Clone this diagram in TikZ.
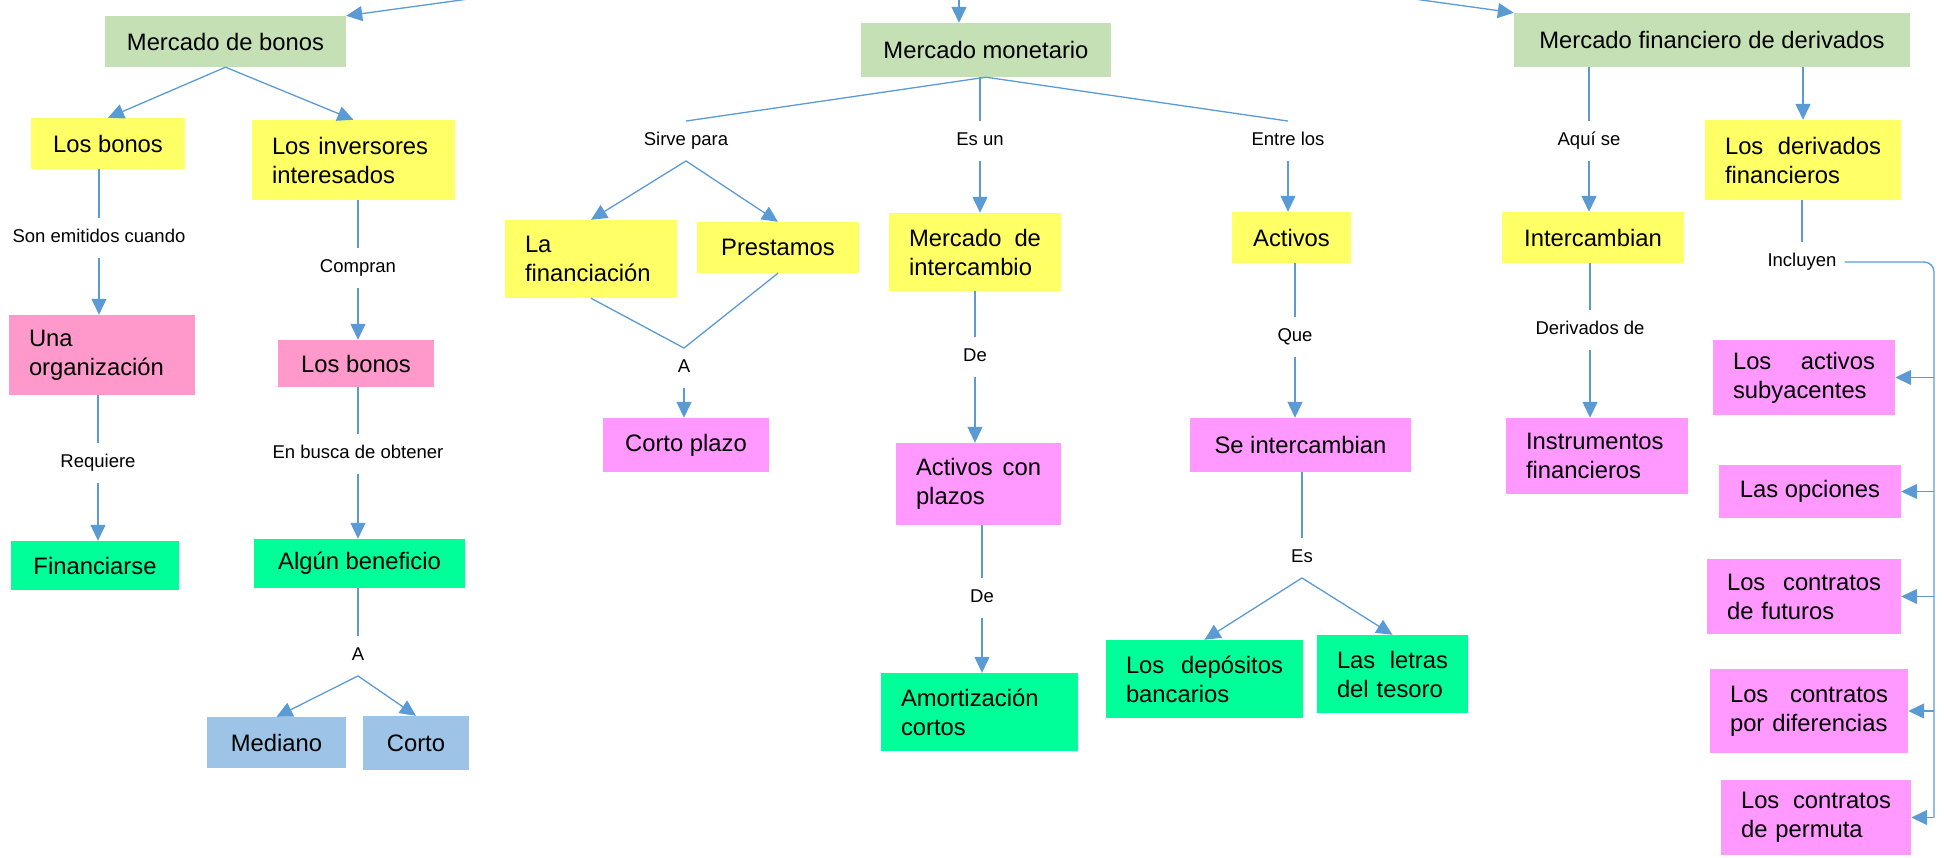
\documentclass[tikz,border=0pt]{standalone}
\usepackage{fontspec}
\setmainfont{Liberation Sans}
\usetikzlibrary{arrows.meta}
\definecolor{hdrgreen}{HTML}{C5E0B4}
\definecolor{boxyellow}{HTML}{FFFF66}
\definecolor{rosepink}{HTML}{FF99CC}
\definecolor{lilacpink}{HTML}{FF99FF}
\definecolor{mintgreen}{HTML}{00FF99}
\definecolor{paleblue}{HTML}{9DC3E6}
\definecolor{linkblue}{HTML}{5B9BD5}
\newcommand{\boxfont}{\fontsize{23.8}{29}\selectfont}
\newcommand{\lblfont}{\fontsize{18.5}{22}\selectfont}

\begin{document}
\begin{tikzpicture}[x=1pt, y=-1pt,
    box/.style = {fill=#1, inner xsep=20pt, inner ysep=2pt, font=\boxfont},
    sz/.style 2 args = {minimum width=#1, minimum height=#2},
    tw/.style 2 args = {text width=#1, minimum height=#2, align=left},
    lbl/.style = {inner xsep=8pt, inner ysep=11pt, text height=13.5pt, text depth=4pt, font=\lblfont},
    link/.style = {linkblue, line width=1.3pt},
    arr/.style = {link, -{Triangle[length=16pt, width=15pt]}}]
                \useasboundingbox (0,0) rectangle (1944,858);

                \node[box=hdrgreen, sz={241}{51}] (bonos) at (225.5,41.5) {Mercado de bonos};
                \node[box=hdrgreen, sz={250}{54}] (monetario) at (986,50) {Mercado monetario};
                \node[box=hdrgreen, sz={396}{54}] (derivados) at (1712,40) {Mercado financiero de derivados};

                \node[box=boxyellow, sz={154}{51}] (losbonos) at (108,143.5) {Los bonos};
                \node[box=boxyellow, tw={163}{80}] (inversores) at (353.5,160) {Los inversores\\interesados};
                \node[box=rosepink, tw={146}{80}] (organizacion) at (102,355) {Una\\organización};
                \node[box=mintgreen, sz={168}{49}] (financiarse) at (95,565.5) {Financiarse};
                \node[box=rosepink, sz={156}{47}] (compra) at (356,363.5) {Los bonos};
                \node[box=mintgreen, sz={211}{49}] (beneficio) at (359.5,563.5) {Algún beneficio};
                \node[box=paleblue, sz={139}{51}] (mediano) at (276.5,742.5) {Mediano};
                \node[box=paleblue, sz={106}{54}] (corto) at (416,743) {Corto};

                \node[box=boxyellow, tw={132}{78}] (financiacion) at (591,259) {La\\financiación};
                \node[box=boxyellow, sz={162}{51}] (prestamos) at (778,247.5) {Prestamos};
                \node[box=lilacpink, sz={166}{54}] (cortoplazo) at (686,445) {Corto plazo};
                \node[box=boxyellow, tw={132}{78}] (intercambio) at (975,252) {Mercado\hfill de\\intercambio};
                \node[box=lilacpink, tw={125}{82}] (plazos) at (978.5,484) {Activos\hfill con\\plazos};
                \node[box=mintgreen, tw={157}{78}] (amortizacion) at (979.5,712) {Amortización\\cortos};
                \node[box=boxyellow, sz={119}{51}] (activos) at (1291.5,237.5) {Activos};
                \node[box=lilacpink, sz={221}{54}] (seintercambian) at (1300.5,445) {Se intercambian};
                \node[box=mintgreen, tw={157}{78}] (depositos) at (1204.5,679) {Los\hfill depósitos\\bancarios};
                \node[box=mintgreen, tw={111}{78}] (letras) at (1392.5,674) {Las\hfill letras\\del tesoro};

                \node[box=boxyellow, sz={182}{51}] (intercambian) at (1593,237.5) {Intercambian};
                \node[box=lilacpink, tw={142}{76}] (instrumentos) at (1597,456) {Instrumentos\\financieros};
                \node[box=boxyellow, tw={156}{80}] (derfin) at (1803,160) {Los\hfill derivados\\financieros};
                \node[box=lilacpink, tw={142}{75}] (subyacentes) at (1804,377.5) {Los\hfill activos\\subyacentes};
                \node[box=lilacpink, sz={182}{53}] (opciones) at (1810,491.5) {Las opciones};
                \node[box=lilacpink, tw={154}{75}] (futuros) at (1804,596.5) {Los\hfill contratos\\de futuros};
                \node[box=lilacpink, tw={158}{84}] (diferencias) at (1809,711) {Los\hfill contratos\\por diferencias};
                \node[box=lilacpink, tw={150}{75}] (permuta) at (1816,817.5) {Los\hfill contratos\\de permuta};

                \node[lbl] (emitidos) at (99,238) {Son emitidos cuando};
                \node[lbl] (requiere) at (98,463) {Requiere};
                \node[lbl] (compran) at (358,268) {Compran};
                \node[lbl] (busca) at (358,454) {En busca de obtener};
                \node[lbl] (plazoA) at (358,656) {A};
                \node[lbl] (sirve) at (686,141) {Sirve para};
                \node[lbl] (esun) at (980,141) {Es un};
                \node[lbl] (entre) at (1288,141) {Entre los};
                \node[lbl] (cortoA) at (684,368) {A};
                \node[lbl] (deA) at (975,357) {De};
                \node[lbl] (deB) at (982,598) {De};
                \node[lbl] (que) at (1295,337) {Que};
                \node[lbl] (es) at (1302,558) {Es};
                \node[lbl] (aqui) at (1589,141) {Aquí se};
                \node[lbl] (derivadosde) at (1590,330) {Derivados de};
                \node[lbl] (incluyen) at (1802,262) {Incluyen};

                \coordinate (topL) at (476,-2);
                \coordinate (topM) at (959,-2);
                \coordinate (topR) at (1407,-2);
                \coordinate (rail) at (1934,262);

                \draw[arr] (topL) -- (bonos.north east);
                \draw[arr] (topM) -- (topM |- monetario.north);
                \draw[arr] (topR) -- (derivados.north west);

                \draw[arr] (bonos.south) -- (losbonos.north);
                \draw[arr] (bonos.south) -- (inversores.north);
                \draw[link] (losbonos.south -| emitidos) -- (emitidos);
                \draw[arr] (emitidos) -- (emitidos |- organizacion.north);
                \draw[link] (organizacion.south -| requiere) -- (requiere);
                \draw[arr] (requiere) -- (requiere |- financiarse.north);
                \draw[link] (inversores.south -| compran) -- (compran);
                \draw[arr] (compran) -- (compran |- compra.north);
                \draw[link] (compra.south -| busca) -- (busca);
                \draw[arr] (busca) -- (busca |- beneficio.north);
                \draw[link] (beneficio.south -| plazoA) -- (plazoA);
                \draw[arr] (plazoA.south) -- (mediano.north);
                \draw[arr] (plazoA.south) -- (corto.north);

                \draw[link] (monetario.south) -- (sirve.north);
                \draw[link] (monetario.south -| esun) -- (esun);
                \draw[link] (monetario.south) -- (entre.north);
                \draw[arr] (sirve.south) -- (financiacion.north);
                \draw[arr] (sirve.south) -- (prestamos.north);
                \draw[link] (financiacion.south) -- (cortoA.north);
                \draw[link] (prestamos.south) -- (cortoA.north);
                \draw[arr] (cortoA) -- (cortoA |- cortoplazo.north);
                \draw[arr] (esun) -- (esun |- intercambio.north);
                \draw[link] (intercambio.south -| deA) -- (deA);
                \draw[arr] (deA) -- (deA |- plazos.north);
                \draw[link] (plazos.south -| deB) -- (deB);
                \draw[arr] (deB) -- (deB |- amortizacion.north);
                \draw[arr] (entre) -- (entre |- activos.north);
                \draw[link] (activos.south -| que) -- (que);
                \draw[arr] (que) -- (que |- seintercambian.north);
                \draw[link] (seintercambian.south -| es) -- (es);
                \draw[arr] (es.south) -- (depositos.north);
                \draw[arr] (es.south) -- (letras.north);

                \draw[link] (derivados.south -| aqui) -- (aqui);
                \draw[arr] (aqui) -- (aqui |- intercambian.north);
                \draw[link] (intercambian.south -| derivadosde) -- (derivadosde);
                \draw[arr] (derivadosde) -- (derivadosde |- instrumentos.north);
                \draw[arr] (derivados.south -| derfin) -- (derfin.north);
                \draw[link] (derfin.south -| incluyen) -- (incluyen);
                \draw[link, rounded corners=10pt] (incluyen.east) -- (incluyen.east -| rail) -- (rail |- permuta.east);
                \foreach \b in {subyacentes, opciones, futuros, diferencias, permuta}
                    \draw[arr] (rail |- \b.east) -- (\b.east);
            \end{tikzpicture}
\end{document}
